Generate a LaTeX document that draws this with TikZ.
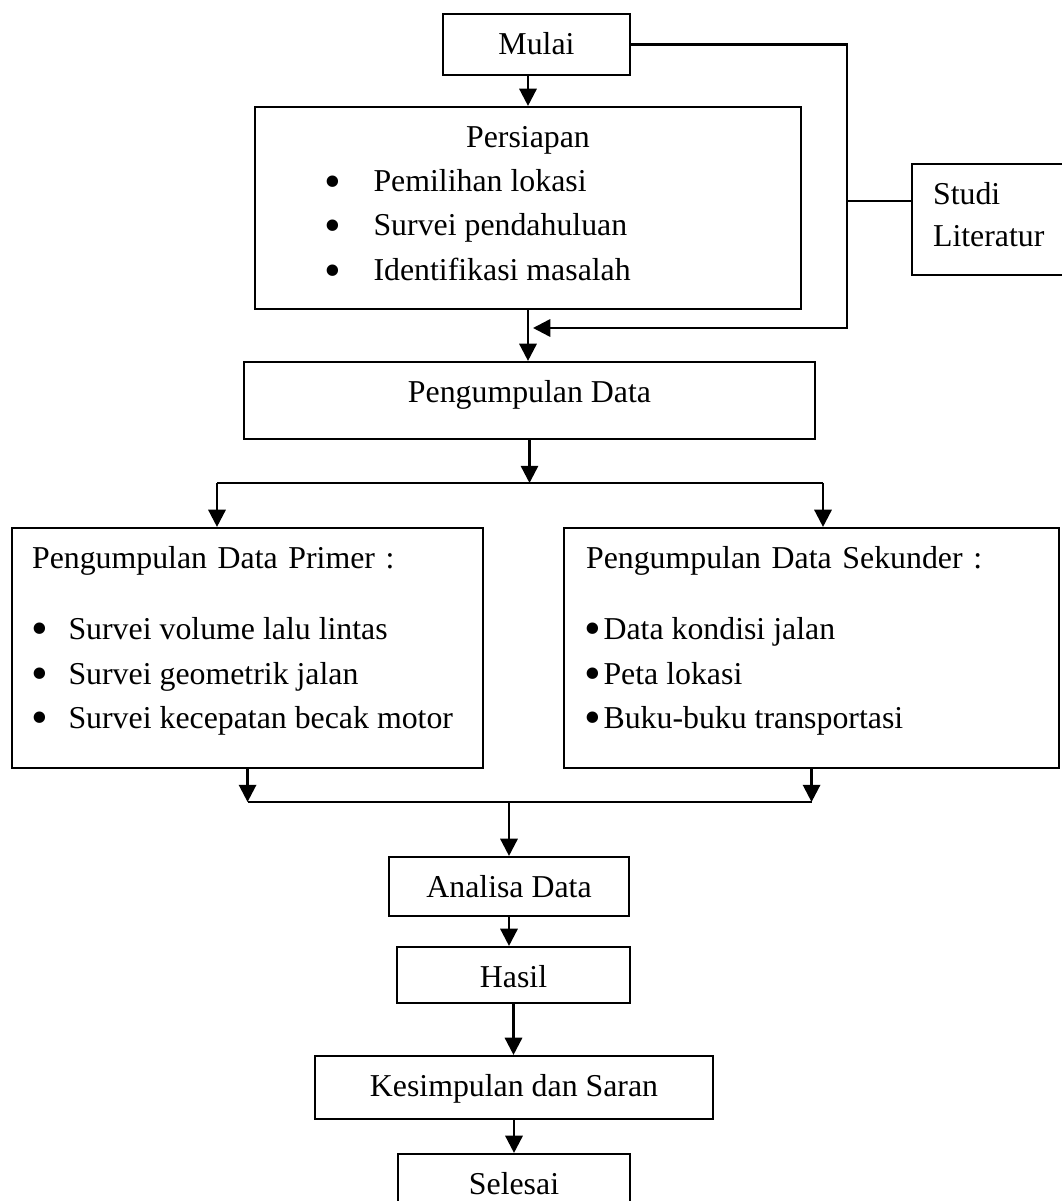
\documentclass[tikz,border=0pt]{standalone}
\usepackage{fontspec}
\setmainfont{Liberation Serif}
\usepackage{tikz}
\usetikzlibrary{arrows.meta, calc}

\newlength{\pxunit}
\setlength{\pxunit}{0.377pt}
\newcommand{\listitem}[2]{\llap{\raisebox{-0.17em}{\scalebox{1.5}{\textbullet}}\hspace{#1\pxunit}}#2}

\begin{document}
\begin{tikzpicture}[
        x=0.377pt, y=-0.377pt,
        font=\fontsize{12}{15.8}\selectfont,
        >={Triangle[length=6.5pt, width=6.5pt]},
        box/.style={rectangle, draw, line width=0.8pt, inner sep=0pt, anchor=base},
        listbox/.style={box, anchor=base west, align=left},
        itemtext/.style={anchor=base west, inner sep=0pt},
        arrow/.style={->, line width=0.95pt},
        line/.style={-, line width=0.95pt}
    ]
    \useasboundingbox (0,0) rectangle (1061,1201);

    % --- Core Nodes ---
    \node[box, minimum width=187\pxunit, text height=41\pxunit, text depth=20\pxunit] (mulai) at (536.5,55) {Mulai};
    \node[box, minimum width=546\pxunit, text height=41\pxunit, text depth=161\pxunit] (persiapan) at (528,148) {Persiapan};
    \node[itemtext] (prs1) at (373,192) {\listitem{32.6}{Pemilihan lokasi}};
    \node[itemtext] (prs2) at (373,236) {\listitem{32.6}{Survei pendahuluan}};
    \node[itemtext] (prs3) at (373,281) {\listitem{32.6}{Identifikasi masalah}};

    \node[listbox, text width=200\pxunit, inner xsep=21\pxunit, text height=41\pxunit, text depth=70\pxunit] (studi) at (911,205) {Studi\\Literatur};

    \node[box, minimum width=571\pxunit, text height=41\pxunit, text depth=36\pxunit] (kumpul) at (529.5,403) {Pengumpulan Data};

    % --- Data Boxes ---
    \node[listbox, text width=431\pxunit, inner xsep=20\pxunit, text height=40\pxunit, text depth=200\pxunit] (primer) at (11,568) {Pengumpulan Data Primer :};
    \node[itemtext] (prm1) at (68,639) {\listitem{20.6}{Survei volume lalu lintas}};
    \node[itemtext] (prm2) at (68,684) {\listitem{20.6}{Survei geometrik jalan}};
    \node[itemtext] (prm3) at (68,728) {\listitem{20.6}{Survei kecepatan becak motor}};

    \node[listbox, text width=451\pxunit, inner xsep=22\pxunit, text height=40\pxunit, text depth=200\pxunit] (sekunder) at (563,568) {Pengumpulan Data Sekunder :};
    \node[itemtext] (skd1) at (603,639) {\listitem{2.6}{Data kondisi jalan}};
    \node[itemtext] (skd2) at (603,684) {\listitem{2.6}{Peta lokasi}};
    \node[itemtext] (skd3) at (603,728) {\listitem{2.6}{Buku-buku transportasi}};

    \node[box, minimum width=240\pxunit, text height=40\pxunit, text depth=19\pxunit] (analisa) at (509,897) {Analisa Data};
    \node[box, minimum width=233\pxunit, text height=40\pxunit, text depth=16\pxunit] (hasil) at (513.5,987) {Hasil};
    \node[box, minimum width=398\pxunit, text height=40\pxunit, text depth=23\pxunit] (simpulan) at (514,1096) {Kesimpulan dan Saran};
    \node[box, minimum width=232\pxunit, text height=40\pxunit, text depth=20\pxunit] (selesai) at (514,1194) {Selesai};

    % --- Connections ---
    \draw[arrow] (persiapan.north |- mulai.south) -- (persiapan.north);

    % Literature loop back into the main flow
    \coordinate (bend) at (847,328);
    \coordinate (lit) at (847,201);
    \draw[arrow] (mulai.east) -| (bend) -- ($(persiapan.south |- bend)+(5,0)$);
    \draw[line] (studi.west |- lit) -- (lit);

    \draw[arrow] (persiapan.south) -- (persiapan.south |- kumpul.north);

    % Split into primary / secondary data
    \coordinate (forkL) at (217,483);
    \coordinate (forkR) at (823,483);
    \draw[arrow] (kumpul.south) -- (kumpul.south |- forkL);
    \draw[line] (forkL) -- (forkR);
    \draw[arrow] (forkL) -- (forkL |- primer.north);
    \draw[arrow] (forkR) -- (forkR |- sekunder.north);

    % Merge again
    \coordinate (join) at (509,802);
    \draw[arrow] (primer.south) -- (primer.south |- join);
    \draw[arrow] (sekunder.south) -- (sekunder.south |- join);
    \draw[line] (primer.south |- join) -- (sekunder.south |- join);
    \draw[arrow] (join) -- (analisa.north);

    \draw[arrow] (analisa.south) -- (analisa.south |- hasil.north);
    \draw[arrow] (hasil.south) -- (hasil.south |- simpulan.north);
    \draw[arrow] (simpulan.south) -- (simpulan.south |- selesai.north);

\end{tikzpicture}
\end{document}
